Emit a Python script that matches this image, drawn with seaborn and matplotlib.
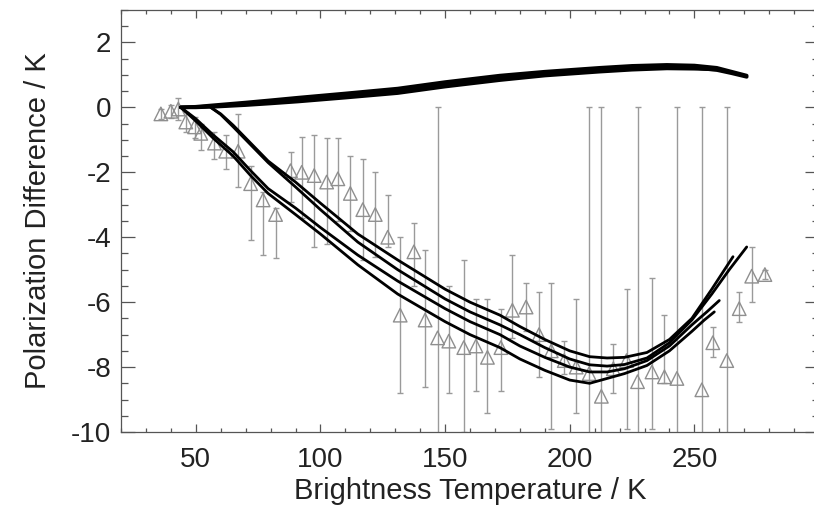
import numpy as np
import matplotlib
matplotlib.use("Agg")
import matplotlib.pyplot as plt
import seaborn as sns
from matplotlib.ticker import MultipleLocator

# observed polarization differences (triangles) with error bar ends
tb = [36, 40, 43, 46, 49.5, 52, 57.5, 62, 67, 72, 77, 82,
      88, 92.5, 97.5, 102.5, 107, 112, 117, 122, 127, 132, 137.5, 142,
      147, 151.5, 157.5, 162.4, 167, 172.4, 177, 182.5, 187.7, 192.6, 197.8, 202.6,
      207.8, 212.7, 217.5, 222.8, 227.2, 233, 238, 243, 253, 257.4, 263, 268, 273, 278.3]
pd_obs = [-0.2, -0.12, -0.05, -0.45, -0.6, -0.8, -1.1, -1.35, -1.35, -2.35, -2.85, -3.3,
          -1.95, -2.0, -2.1, -2.3, -2.2, -2.65, -3.15, -3.3, -4.0, -6.4, -4.45, -6.55,
          -7.1, -7.2, -7.4, -7.35, -7.7, -7.4, -6.25, -6.15, -7.0, -7.5, -7.8, -8.0,
          -8.2, -8.9, -8.05, -7.8, -8.45, -8.15, -8.3, -8.35, -8.7, -7.25, -7.8, -6.2, -5.2, -5.15]
err_top = [-0.05, 0.08, 0.3, -0.15, -0.3, -0.5, -0.75, -0.85, -0.2, -1.8, -2.6, -3.1,
           -1.37, -0.9, -0.85, -0.95, -0.95, -1.5, -1.6, -2.0, -2.7, -4.0, -3.56, -4.4,
           0.0, -5.5, -4.7, -5.9, -5.9, -6.2, -4.55, -5.4, -5.7, -5.4, -7.2, -5.9,
           0.0, 0.0, -7.3, -5.6, 0.0, -5.25, -6.4, 0.0, 0.0, -6.77, 0.0, -5.7, -4.3, -5.0]
err_bot = [-0.35, -0.32, -0.4, -0.75, -0.95, -1.3, -1.6, -1.9, -2.45, -4.1, -4.55, -4.65,
           -2.9, -3.4, -4.3, -4.2, -3.5, -3.8, -4.7, -4.6, -4.3, -8.8, -5.5, -8.6,
           -14.2, -8.8, -10.0, -8.75, -9.4, -8.75, -7.1, -6.9, -8.3, -9.9, -8.2, -9.4,
           -16.4, -17.8, -8.8, -9.9, -16.9, -9.9, -8.5, -16.7, -17.4, -7.7, -15.6, -6.6, -6.0, -5.3]

# model curves, lower branch (four models)
tb_a = [56, 60, 65, 72, 79, 90, 100, 115, 131, 150, 160, 172, 180, 190, 200, 208,
        215, 222, 231, 240, 249, 257, 265.5]
pd_a = [0.0, -0.2, -0.55, -1.1, -1.65, -2.3, -2.95, -3.9, -4.7, -5.6, -6.0, -6.4, -6.75,
        -7.15, -7.5, -7.68, -7.72, -7.7, -7.55, -7.15, -6.5, -5.6, -4.6]
tb_b = [56, 60, 65, 72, 79, 90, 100, 115, 131, 150, 160, 172, 180, 190, 200, 208,
        215, 222, 231, 240, 249, 257, 264, 271]
pd_b = [0.0, -0.22, -0.6, -1.15, -1.7, -2.45, -3.15, -4.15, -5.0, -5.9, -6.3, -6.7, -7.0,
        -7.4, -7.75, -7.93, -7.97, -7.92, -7.72, -7.25, -6.55, -5.75, -5.0, -4.3]
tb_c = [44, 50, 57, 65, 72, 79, 90, 100, 115, 131, 150, 160, 172, 180, 190, 200, 208,
        215, 222, 231, 240, 249, 255, 260]
pd_c = [0.0, -0.35, -0.85, -1.37, -1.95, -2.5, -3.1, -3.7, -4.55, -5.35, -6.2, -6.6, -7.0,
        -7.35, -7.7, -8.0, -8.15, -8.15, -8.05, -7.8, -7.35, -6.7, -6.3, -5.95]
tb_d = [44, 50, 57, 65, 72, 79, 90, 100, 115, 131, 150, 160, 172, 180, 190, 200, 208,
        215, 222, 231, 240, 249, 254, 258]
pd_d = [0.0, -0.42, -0.95, -1.5, -2.1, -2.65, -3.3, -3.9, -4.85, -5.75, -6.6, -7.0, -7.4,
        -7.75, -8.1, -8.4, -8.5, -8.35, -8.2, -7.95, -7.5, -6.9, -6.55, -6.3]

# model curves, upper branch
tb_up = [44, 50, 57.6, 70, 80, 91, 110, 131, 150, 172, 190, 212, 225, 239, 250, 259, 265, 271]
pd_up1 = [0.0, 0.01, 0.04, 0.1, 0.16, 0.23, 0.35, 0.5, 0.7, 0.9, 1.03, 1.15, 1.21, 1.25,
          1.22, 1.15, 1.05, 0.94]
pd_up2 = [0.0, 0.02, 0.07, 0.15, 0.22, 0.3, 0.43, 0.58, 0.78, 0.98, 1.1, 1.22, 1.28, 1.31,
          1.29, 1.22, 1.1, 0.98]
tb_up3 = [44, 50, 57.6, 70, 80, 91, 110, 131, 150, 172, 190, 212, 225, 239, 250, 259]
pd_up3 = [0.0, 0.0, 0.02, 0.07, 0.12, 0.18, 0.3, 0.44, 0.64, 0.84, 0.98, 1.1, 1.16, 1.2,
          1.19, 1.17]

sns.set_style("ticks")
plt.rcParams["font.family"] = ["Liberation Sans", "DejaVu Sans"]
plt.rcParams["axes.unicode_minus"] = False

fig = plt.figure(figsize=(8.14, 5.12), dpi=100)
ax = fig.add_axes([121 / 814, 80 / 512, 698 / 814, 422 / 512])

tb_arr = np.array(tb)
pd_arr = np.array(pd_obs)
yerr = [pd_arr - np.array(err_bot), np.array(err_top) - pd_arr]
ax.errorbar(tb_arr, pd_arr, yerr=yerr, fmt="none", ecolor="#9a9a9a",
            elinewidth=1.0, capsize=2.5, capthick=1.0, zorder=2)
sns.scatterplot(x=tb, y=pd_obs, marker="^", s=95, facecolor="none",
                edgecolor="#8f8f8f", linewidth=1.0, ax=ax, zorder=3)

for x, y in [(tb_a, pd_a), (tb_b, pd_b), (tb_c, pd_c), (tb_d, pd_d)]:
    sns.lineplot(x=x, y=y, color="black", linewidth=2.0, sort=False,
                 estimator=None, ax=ax, zorder=4)
for x, y in [(tb_up, pd_up1), (tb_up, pd_up2), (tb_up3, pd_up3)]:
    sns.lineplot(x=x, y=y, color="black", linewidth=2.6, sort=False,
                 estimator=None, ax=ax, zorder=4)

ax.set_xlim(20, 300)
ax.set_ylim(-10, 3)
ax.set_xticks([50, 100, 150, 200, 250])
ax.xaxis.set_minor_locator(MultipleLocator(10))
ax.set_yticks([-10, -8, -6, -4, -2, 0, 2])
ax.yaxis.set_minor_locator(MultipleLocator(0.5))

ax.tick_params(axis="both", which="both", direction="in", top=True, right=True,
               colors="#555555", width=0.9, labelcolor="#222222", labelsize=20)
ax.tick_params(axis="x", which="major", length=6, pad=11)
ax.tick_params(axis="x", which="minor", length=3)
ax.tick_params(axis="y", which="major", length=10, pad=7)
ax.tick_params(axis="y", which="minor", length=5)
for s in ax.spines.values():
    s.set_color("#555555")
    s.set_linewidth(0.9)

ax.set_xlabel("Brightness Temperature / K", fontsize=21, color="#222222", labelpad=3)
ax.set_ylabel("Polarization Difference / K", fontsize=21, color="#222222", labelpad=14)

fig.savefig("out.png", dpi=100)
